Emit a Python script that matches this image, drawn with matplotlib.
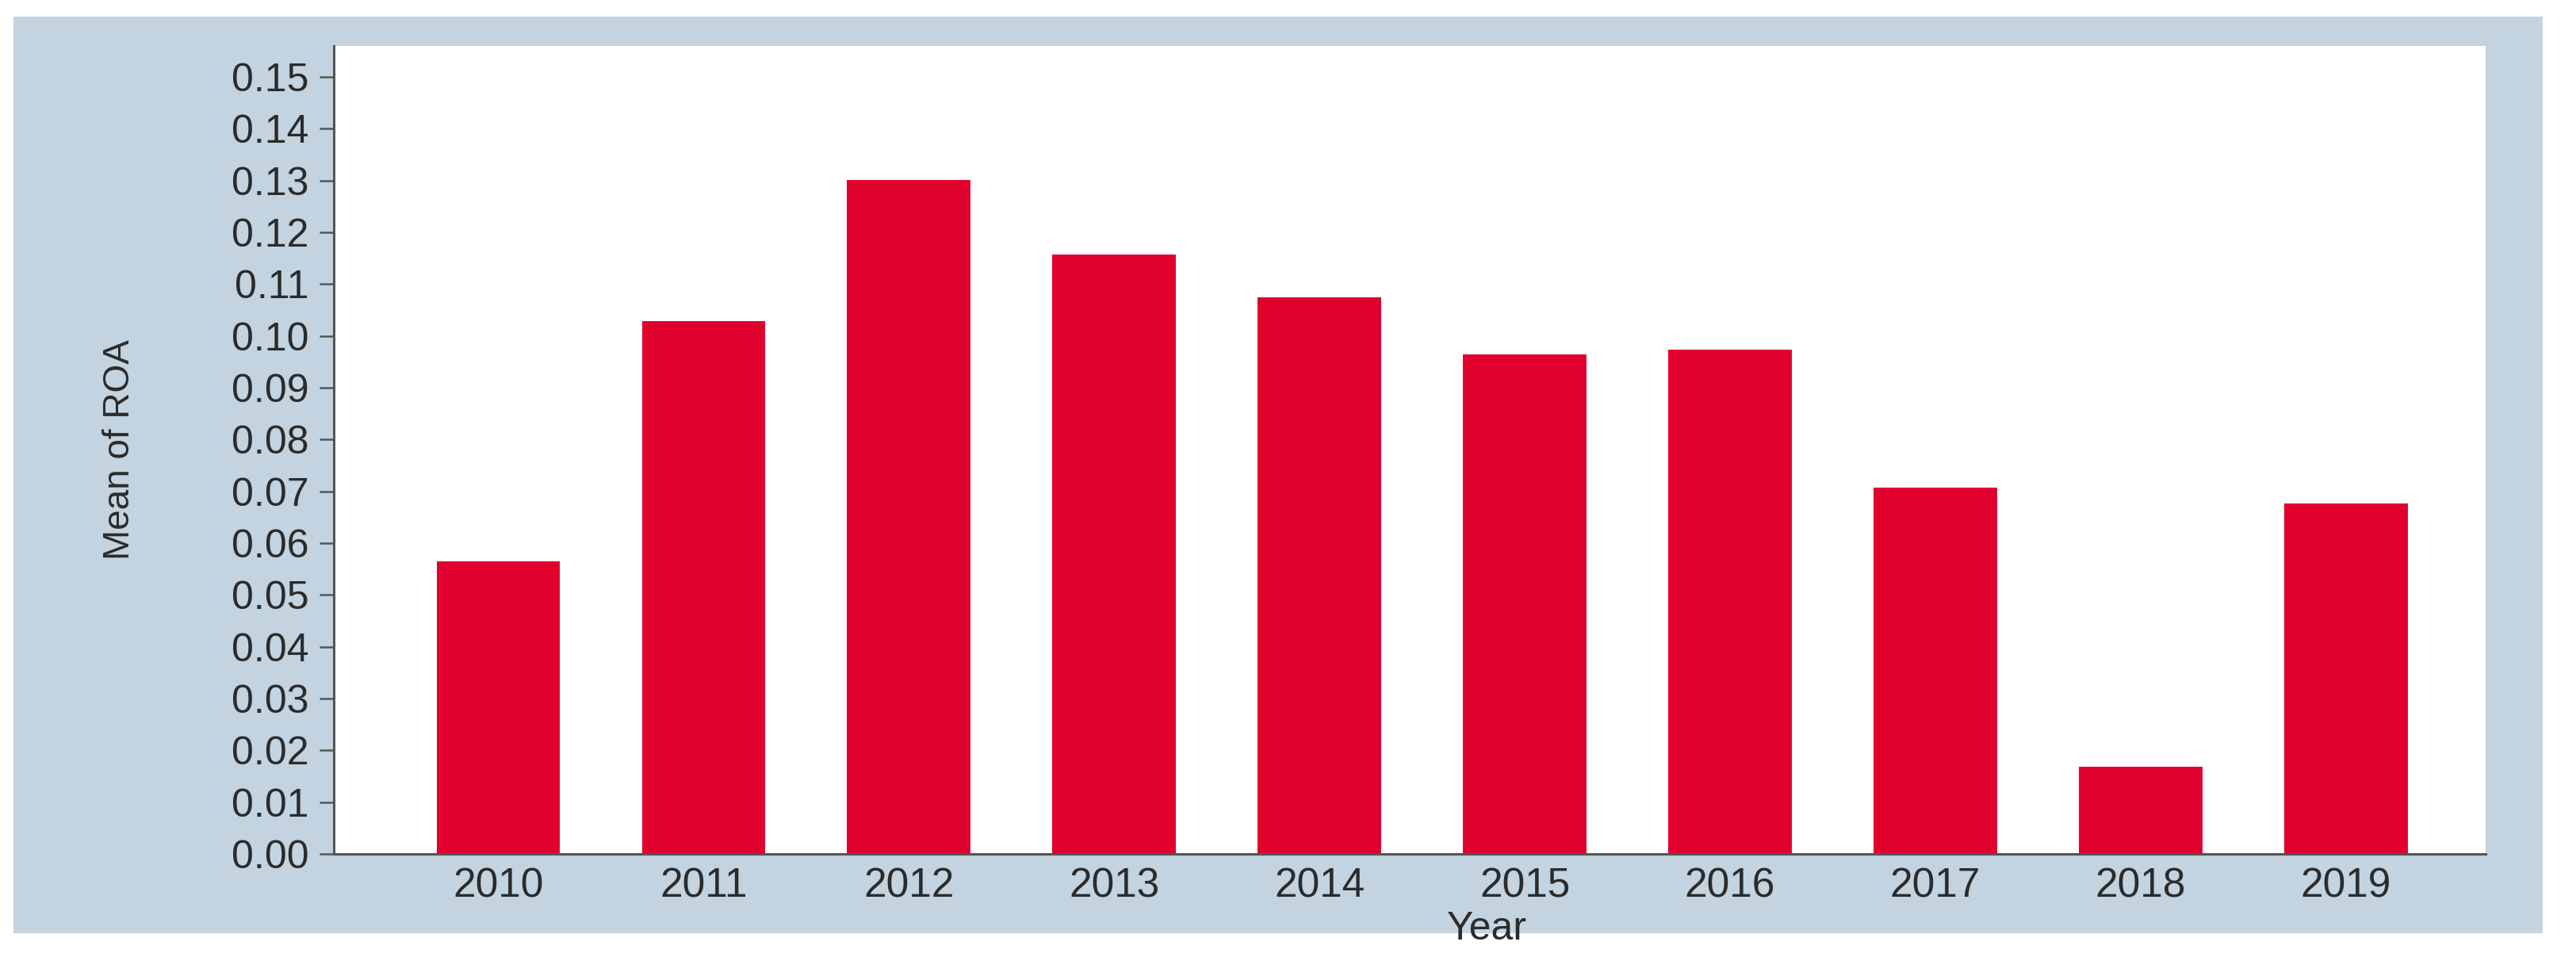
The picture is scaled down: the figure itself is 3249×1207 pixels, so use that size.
import matplotlib.pyplot as plt
from matplotlib.patches import Rectangle

years = ["2010", "2011", "2012", "2013", "2014", "2015", "2016", "2017", "2018", "2019"]
mean_roa = [0.0565, 0.1028, 0.1301, 0.1158, 0.1075, 0.0964, 0.0974, 0.0707, 0.0168, 0.0676]
yticks = [i / 100 for i in range(16)]

FRAME = "#c3d3df"
BAR = "#e1012f"
INK = "#2b2b2b"
AXIS = "#555555"

plt.rcParams["font.family"] = ["Liberation Sans", "DejaVu Sans"]

fig = plt.figure(figsize=(32.49, 12.07), dpi=100)
fig.patch.set_facecolor("white")
# light blue panel behind the plot
fig.patches.append(Rectangle((0.0052, 0.0249), 0.9818, 0.9577, transform=fig.transFigure,
                             facecolor=FRAME, edgecolor="none", zorder=-5))

ax = fig.add_axes([0.1296, 0.1077, 0.8353, 0.8443])
ax.set_facecolor("white")
x = list(range(len(years)))
ax.bar(x, mean_roa, width=0.6, color=BAR, zorder=2)

ax.set_xlim(-0.8, 9.68)
ax.set_ylim(0, 0.156)
ax.set_xticks(x)
ax.set_xticklabels(years)
ax.set_yticks(yticks)
ax.set_yticklabels([f"{v:.2f}" for v in yticks])

for side in ("top", "right"):
    ax.spines[side].set_visible(False)
for side in ("left", "bottom"):
    ax.spines[side].set_color(AXIS)
    ax.spines[side].set_linewidth(2.2)

ax.tick_params(axis="y", length=13, width=1.8, color=AXIS, pad=10,
               labelsize=36, labelcolor=INK)
ax.tick_params(axis="x", length=0, pad=12, labelsize=37, labelcolor=INK)

ax.set_ylabel("Mean of ROA", fontsize=33, color=INK,
              family=["Liberation Sans Narrow", "Liberation Sans", "DejaVu Sans"])
ax.yaxis.set_label_coords(-0.0914, 0.5)
ax.set_xlabel("Year", fontsize=36, color=INK)
ax.xaxis.set_label_coords(0.536, -0.071)

fig.savefig("out.png", dpi=100, facecolor="white")
